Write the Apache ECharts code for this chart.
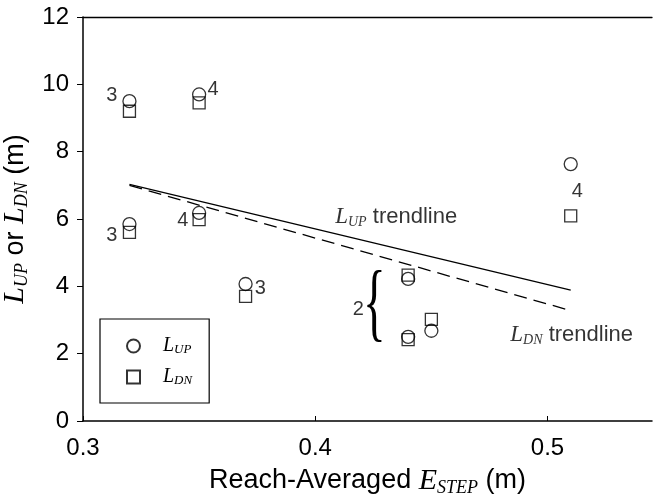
<!DOCTYPE html>
<html><head><meta charset="utf-8">
<script src="https://cdn.jsdelivr.net/npm/echarts@6/dist/echarts.min.js"></script>
<style>html,body{margin:0;padding:0;background:#fff}#c{width:653px;height:499px}</style>
</head><body><div id="c"></div>
<script>
// ---- data ----
const xTickValues = [0.3, 0.4, 0.5];
const yTickValues = [0, 2, 4, 6, 8, 10, 12];
const estep = [0.32, 0.32, 0.35, 0.35, 0.37, 0.44, 0.44, 0.45, 0.51];
const lUp   = [9.50, 5.85, 9.70, 6.18, 4.07, 4.22, 2.50, 2.68, 7.63];
const lDn   = [9.20, 5.60, 9.45, 5.98, 3.70, 4.33, 2.42, 3.02, 6.09];
const trendX   = [0.32, 0.51];
const trendUpY = [7.03, 3.89];
const trendDnY = [7.00, 3.28];
const noteX    = [0.3124, 0.356, 0.3124, 0.343, 0.3763, 0.5128, 0.4185];
const noteY    = [9.68, 9.86, 5.52, 5.97, 3.95, 6.81, 3.30];
const noteText = ['3', '4', '3', '4', '3', '4', '2'];
const trendLabelX = [0.4086, 0.484];
const trendLabelY = [6.06, 2.55];
const trendLabelText = ['{i|L}{s|UP}{t| trendline}', '{i|L}{s|DN}{t| trendline}'];
const braceX = [0.4255];
const braceY = [3.36];

const SANS = '"Liberation Sans", Arial, sans-serif';
const SERIF = '"Liberation Serif", "Times New Roman", serif';

const chart = echarts.init(document.getElementById('c'));
const pairs = (xs, ys) => xs.map((x, i) => [x, ys[i]]);

const nameRich = {
  i: {fontFamily: SERIF, fontStyle: 'italic', fontSize: 30, lineHeight: 32, color: '#000'},
  s: {fontFamily: SERIF, fontStyle: 'italic', fontSize: 18, lineHeight: 17, verticalAlign: 'bottom', color: '#000'},
  r: {fontFamily: SANS, fontSize: 27, lineHeight: 32, color: '#000'}
};
const smallRich = {
  i: {fontFamily: SERIF, fontStyle: 'italic', fontSize: 23, lineHeight: 24, color: '#000'},
  s: {fontFamily: SERIF, fontStyle: 'italic', fontSize: 14, lineHeight: 13, verticalAlign: 'bottom', color: '#000'},
  t: {fontFamily: SANS, fontSize: 22, lineHeight: 24, color: '#000'}
};
const legendRich = {
  i: {fontFamily: SERIF, fontStyle: 'italic', fontSize: 20, lineHeight: 20, color: '#000'},
  s: {fontFamily: SERIF, fontStyle: 'italic', fontSize: 13, lineHeight: 11, verticalAlign: 'bottom', color: '#000'}
};

const markStyle = {color: 'rgba(0,0,0,0)', borderColor: '#000', borderWidth: 1.3};

chart.setOption({
  animation: false,
  backgroundColor: '#fff',
  grid: {left: 83, top: 17, right: 1, bottom: 78, outerBoundsMode: 'none', containLabel: false},
  legend: {
    orient: 'vertical', left: 100, top: 319,
    data: [{name: 'LUP', icon: 'circle'}, {name: 'LDN', icon: 'rect'}],
    itemWidth: 13, itemHeight: 13, itemGap: 11,
    padding: [17, 17, 16, 26],
    borderColor: '#000', borderWidth: 1.2,
    formatter: n => n === 'LUP' ? '{i|L}{s|UP}' : '{i|L}{s|DN}',
    textStyle: {padding: [0, 0, 0, 18], rich: legendRich},
    selectedMode: false
  },
  xAxis: [{
    type: 'value', min: 0.3, max: 0.545, interval: 0.1,
    name: '{r|Reach-Averaged }{i|E}{s|STEP}{r| (m)}',
    nameLocation: 'middle', nameGap: 44,
    nameTextStyle: {fontFamily: SANS, fontSize: 27, color: '#000', rich: nameRich},
    axisLine: {lineStyle: {color: '#000', width: 1.5}},
    axisTick: {inside: true, length: 5, lineStyle: {color: '#000'}, customValues: xTickValues},
    axisLabel: {customValues: xTickValues, margin: 15, fontFamily: SANS, fontSize: 24, color: '#000',
      formatter: v => v.toFixed(1)},
    splitLine: {show: false}
  }, {
    type: 'value', position: 'top', min: 0.3, max: 0.545,
    axisLine: {show: true, lineStyle: {color: '#000', width: 1.3}},
    axisTick: {show: false}, axisLabel: {show: false}, splitLine: {show: false}
  }],
  yAxis: {
    type: 'value', min: 0, max: 12, interval: 2,
    name: '{i|L}{s|UP}{r| or }{i|L}{s|DN}{r| (m)}',
    nameLocation: 'middle', nameGap: 31,
    nameTextStyle: {fontFamily: SANS, fontSize: 27, color: '#000', rich: nameRich},
    axisLine: {show: true, lineStyle: {color: '#000', width: 1.5}},
    axisTick: {show: true, length: 6, lineStyle: {color: '#000'}, customValues: yTickValues},
    axisLabel: {customValues: yTickValues, margin: 14, fontFamily: SANS, fontSize: 24, color: '#000'},
    splitLine: {show: false}
  },
  series: [
    {name: 'LUP', type: 'scatter', xAxisIndex: 0, symbol: 'circle', symbolSize: 13,
      itemStyle: markStyle, data: pairs(estep, lUp), z: 3},
    {name: 'LDN', type: 'scatter', xAxisIndex: 0, symbol: 'rect', symbolSize: 12,
      itemStyle: markStyle, data: pairs(estep, lDn), z: 3},
    {name: 'upTrend', type: 'line', xAxisIndex: 0, symbol: 'none',
      lineStyle: {color: '#000', width: 1.3}, data: pairs(trendX, trendUpY)},
    {name: 'dnTrend', type: 'line', xAxisIndex: 0, symbol: 'none',
      lineStyle: {color: '#000', width: 1.3, type: [13, 7]}, data: pairs(trendX, trendDnY)},
    {name: 'notes', type: 'scatter', xAxisIndex: 0, symbolSize: 0, silent: true,
      data: noteX.map((x, i) => ({value: [x, noteY[i]], label: {formatter: noteText[i]}})),
      label: {show: true, position: 'inside', fontFamily: SANS, fontSize: 20, color: '#000'}},
    {name: 'trendLabels', type: 'scatter', xAxisIndex: 0, symbolSize: 0, silent: true,
      data: trendLabelX.map((x, i) => ({value: [x, trendLabelY[i]], label: {formatter: trendLabelText[i]}})),
      label: {show: true, position: 'right', distance: 0, rich: smallRich}},
    {name: 'brace', type: 'custom', xAxisIndex: 0, silent: true,
      data: pairs(braceX, braceY),
      renderItem: (params, api) => {
        const p = api.coord([api.value(0), api.value(1)]);
        return {type: 'text', x: p[0], y: p[1], scaleX: 0.55,
          style: {text: '{', fontFamily: SERIF, fontSize: 86, fill: '#000', align: 'center', verticalAlign: 'middle'}};
      }}
  ]
});
</script></body></html>
